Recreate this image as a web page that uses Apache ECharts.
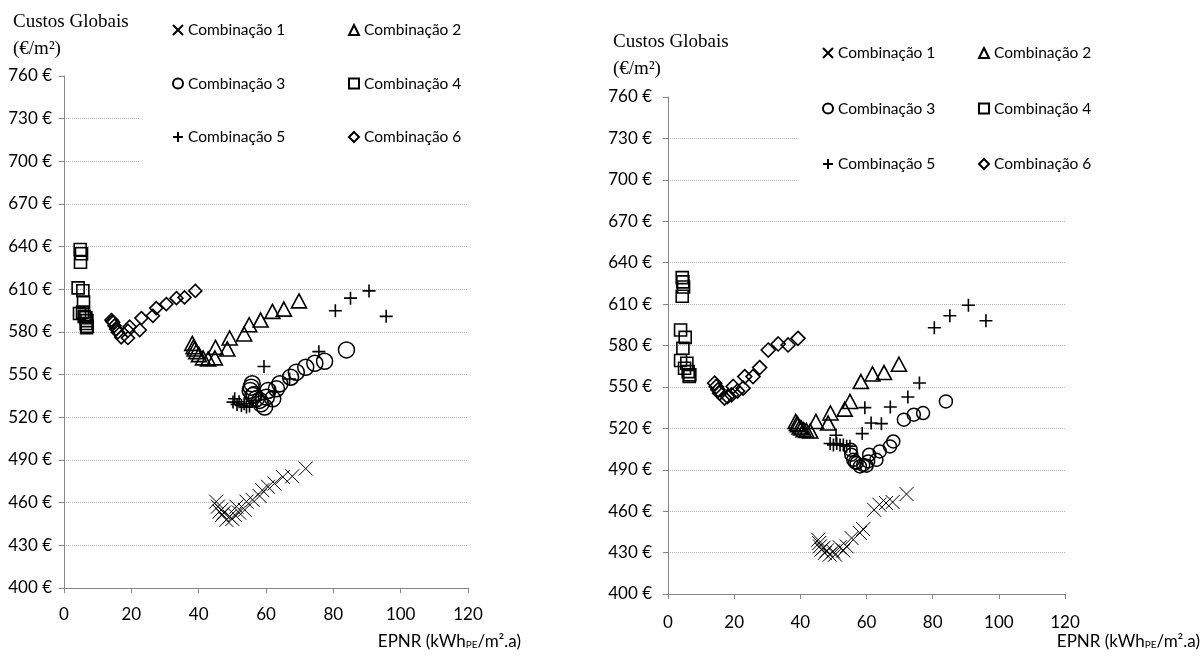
<!DOCTYPE html>
<html>
<head>
    <meta charset="utf-8">
    <title>Custos Globais vs EPNR</title>
    <script src="https://cdn.jsdelivr.net/npm/echarts@6/dist/echarts.min.js"></script>
    <style>
        html, body {margin:0;padding:0;background:#fff}
        #chart {width:1202px;height:657px}
    </style>
</head>
<body>
<div id="chart"></div>
<script>
    // eixos
    var xMin = 0, xMax = 120, xStep = 20;
    var yMin = 400, yMax = 760, yStep = 30;
    var names = ['Combinação 1', 'Combinação 2', 'Combinação 3', 'Combinação 4', 'Combinação 5', 'Combinação 6'];

    // gráfico da esquerda [EPNR, custo]
    var leftC1 = [[45.2,460.7],[45.7,457.2],[46.2,453.7],[46.7,455.0],[47.0,451.4],[47.5,453.0],[48.2,447.9],[49.2,450.2],[50.0,448.5],[50.7,451.4],[51.2,457.2],[52.0,453.0],[53.7,454.9],[54.2,460.7],[56.0,462.0],[58.1,464.7],[58.9,468.8],[60.6,471.2],[62.5,473.5],[65.0,478.1],[67.8,478.6],[71.8,484.0]];
    var leftC2 = [[38.1,572.0],[38.5,569.7],[38.8,568.1],[39.3,566.2],[40.1,564.1],[41.3,561.8],[42.8,561.1],[44.8,561.8],[45.0,569.2],[48.5,568.1],[49.2,575.8],[53.5,578.6],[55.0,585.1],[58.4,588.4],[61.9,594.5],[65.3,596.1],[69.8,601.9]];
    var leftC3 = [[55.3,538.9],[55.6,541.2],[55.9,543.6],[56.1,535.4],[56.5,536.0],[57.1,533.1],[58.1,531.9],[58.5,529.5],[59.6,527.2],[60.1,534.2],[60.6,538.9],[62.0,533.0],[63.1,540.1],[64.1,543.6],[67.3,548.2],[69.0,551.7],[71.8,555.2],[74.5,558.0],[77.4,559.4],[83.9,567.4]];
    var leftC4 = [[4.8,638],[5.2,635],[4.9,629],[4.2,611],[5.6,609],[5.8,601],[4.6,593],[5.5,594],[6.0,591],[6.5,590],[6.8,588],[6.6,586],[6.9,584],[6.7,583]];
    var leftC5 = [[50.2,530.7],[50.7,533.1],[51.4,529.1],[52.0,531.0],[52.7,528.4],[53.5,529.5],[54.2,527.2],[55.1,528.0],[57.0,532.0],[59.4,555.7],[62.5,538.0],[67.0,547.0],[75.7,566.2],[80.6,594.9],[85.1,603.8],[90.6,608.9],[95.7,591.0]];
    var leftC6 = [[14.1,588.4],[14.3,587.5],[14.6,586.8],[15.0,584.4],[15.5,582.1],[16.0,579.8],[17.0,576.3],[19.0,575.8],[19.0,580.9],[19.5,583.7],[22.5,581.4],[23.0,589.8],[26.4,591.4],[27.4,596.8],[30.4,599.6],[33.4,603.8],[35.8,604.3],[39.0,608.9]];

    // gráfico da direita
    var rightC1 = [[45.4,439.3],[45.7,436.9],[45.9,434.5],[46.4,432.1],[47.0,433.5],[47.4,429.7],[48.0,431.5],[48.9,428.5],[49.9,430.9],[50.5,428.5],[51.9,433.9],[53.0,431.5],[54.0,434.5],[55.5,440.5],[58.0,444.2],[59.0,447.0],[62.3,461.0],[63.9,464.7],[65.9,465.9],[67.9,466.6],[72.1,472.4]];
    var rightC2 = [[38.6,525.0],[39.0,523.5],[39.3,522.6],[39.8,521.0],[40.3,520.2],[41.0,519.0],[41.8,518.5],[43.0,518.0],[44.7,525.0],[48.4,523.8],[49.1,531.1],[53.4,533.9],[55.0,539.5],[58.3,553.9],[61.8,559.4],[65.3,560.4],[69.8,566.4]];
    var rightC3 = [[55.2,504.5],[55.4,500.9],[56.0,497.2],[56.5,495.5],[57.0,494.8],[58.0,492.4],[59.0,493.5],[60.0,492.9],[60.5,496.0],[60.8,500.9],[63.0,497.2],[64.0,503.3],[67.1,506.9],[68.1,510.5],[71.3,526.3],[74.3,529.9],[77.1,531.1],[84.0,539.5]];
    var rightC4 = [[4.3,629.2],[4.5,626.1],[4.7,622.4],[4.3,615.7],[3.8,591.2],[5.2,585.9],[4.5,578.0],[3.8,569.1],[5.7,567.1],[5.0,563.5],[6.1,561.1],[6.6,558.7],[6.4,557.5]];
    var rightC5 = [[49,509],[50,508],[51,509],[52,508],[53,508],[54,507],[55,507],[50.8,515],[58.7,516.2],[61.4,523.9],[64.5,523.4],[59.5,535],[67.2,535.4],[72.5,542.7],[76,552.8],[80.5,592.9],[85.2,601.5],[90.8,609.2],[96.1,597.9]];
    var rightC6 = [[14.1,552.7],[14.6,550.3],[15.1,547.9],[15.6,545.5],[17.1,541.9],[18.0,543.0],[19.2,544.3],[19.7,550.3],[21.0,547.0],[22.7,549.1],[23.2,557.5],[25.7,557.5],[27.7,564.0],[30.3,576.7],[33.3,581.1],[36.3,580.4],[39.3,585.2]];

    var chart = echarts.init(document.getElementById('chart'));

    var symX = 'path://M0,0L10,10M10,0L0,10';
    var symPlus = 'path://M5,0L5,10M0,5L10,5';
    var symbols = [symX, 'triangle', 'circle', 'rect', symPlus, 'diamond'];
    var sizesL = [14, [15, 14], 16, 12, 13, 13];
    var sizesR = [14, [15, 14], 13, 12, 13, 14];
    var widths = [1, 1.6, 1.5, 1.6, 1.6, 1.6];

    function mk(i, data, g, sizes) {
        return {
            name: names[i],
            type: 'scatter',
            xAxisIndex: g,
            yAxisIndex: g,
            data: data,
            symbol: symbols[i],
            symbolSize: sizes[i],
            itemStyle: {color: 'rgba(0,0,0,0)', borderColor: '#000', borderWidth: widths[i], opacity: 1},
            emphasis: {disabled: true}
        };
    }

    var font = 'Lato';
    function xAx(g, margin) {
        return {
            gridIndex: g, type: 'value', min: xMin, max: xMax, interval: xStep,
            axisLine: {lineStyle: {color: '#868686', width: 1}},
            axisTick: {show: true, length: 5, lineStyle: {color: '#868686'}},
            axisLabel: {color: '#000', fontFamily: font, fontSize: 17, margin: margin},
            splitLine: {show: false}
        };
    }
    function yAx(g, margin) {
        return {
            gridIndex: g, type: 'value', min: yMin, max: yMax, interval: yStep,
            axisLine: {show: true, lineStyle: {color: '#868686', width: 1}},
            axisTick: {show: true, length: 5, lineStyle: {color: '#868686'}},
            axisLabel: {color: '#000', fontFamily: font, fontSize: 17, margin: margin, formatter: '{value} €'},
            splitLine: {show: true, showMinLine: false, showMaxLine: false, lineStyle: {color: '#b4b4b4', type: 'dotted', width: 1}}
        };
    }
    function leg(left, top, gap, data) {
        return {
            orient: 'vertical', left: left, top: top, itemGap: gap, padding: 0,
            itemWidth: 10, itemHeight: 10, selectedMode: false,
            data: data,
            textStyle: {fontFamily: font, fontSize: 15.5, color: '#000', lineHeight: 18},
            itemStyle: {borderWidth: 2}
        };
    }

    var subRich = {
        sub: {fontFamily: font, fontSize: 10, color: '#000', padding: [7, 0, 0, 0]}
    };
    var yTitle = {fontFamily: 'Liberation Serif', fontSize: 19, fontWeight: 'normal', color: '#000', lineHeight: 27};
    var xTitle = {fontFamily: font, fontSize: 17, fontWeight: 'normal', color: '#000', rich: subRich};

    var option = {
        animation: false,
        backgroundColor: '#fff',
        title: [
            {text: 'Custos Globais\n(€/m²)', left: 13, top: 9, padding: 0, textStyle: yTitle},
            {text: 'Custos Globais\n(€/m²)', left: 613, top: 29, padding: 0, textStyle: yTitle},
            {text: 'EPNR (kWh{sub|PE}/m².a)', right: 681, top: 633, padding: 0, textStyle: xTitle},
            {text: 'EPNR (kWh{sub|PE}/m².a)', right: 2, top: 633, padding: 0, textStyle: xTitle}
        ],
        grid: [
            {left: 64, top: 76, width: 404, height: 512},
            {left: 668, top: 97, width: 397, height: 497}
        ],
        xAxis: [xAx(0, 18), xAx(1, 20)],
        yAxis: [yAx(0, 12), yAx(1, 16)],
        legend: [
            leg(172, 21, 35.5, [names[0], names[2], names[4]]),
            leg(348, 21, 35.5, [names[1], names[3], names[5]]),
            leg(822, 44, 37.5, [names[0], names[2], names[4]]),
            leg(978, 44, 37.5, [names[1], names[3], names[5]])
        ],
        graphic: [
            {type: 'rect', z: 1, shape: {x: 140, y: 70, width: 330, height: 120}, style: {fill: '#fff'}},
            {type: 'rect', z: 1, shape: {x: 797, y: 92, width: 270, height: 120}, style: {fill: '#fff'}}
        ],
        series: [
            mk(0, leftC1, 0, sizesL), mk(1, leftC2, 0, sizesL), mk(2, leftC3, 0, sizesL),
            mk(3, leftC4, 0, sizesL), mk(4, leftC5, 0, sizesL), mk(5, leftC6, 0, sizesL),
            mk(0, rightC1, 1, sizesR), mk(1, rightC2, 1, sizesR), mk(2, rightC3, 1, sizesR),
            mk(3, rightC4, 1, sizesR), mk(4, rightC5, 1, sizesR), mk(5, rightC6, 1, sizesR)
        ]
    };
    chart.setOption(option);
</script>
</body>
</html>
